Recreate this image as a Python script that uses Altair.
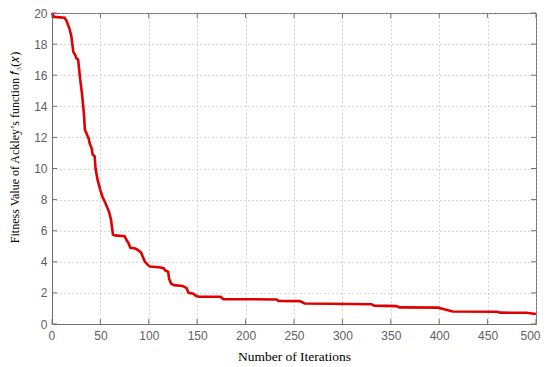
import altair as alt
import pandas as pd

iterations = [0, 2, 13, 15, 18, 20, 22, 24, 25, 27, 29, 31, 33, 34, 36, 38, 39, 41, 42, 44,
              45, 47, 50, 52, 55, 57, 59, 61, 62, 63, 65, 75, 77, 79, 81, 86, 89, 92, 94, 96,
              99, 101, 110, 115, 117, 120, 121, 123, 126, 135, 139, 141, 146, 149, 152, 174,
              177, 232, 234, 256, 261, 330, 333, 356, 359, 399, 405, 414, 460, 463, 490, 500]
fitness = [20, 19.75, 19.7, 19.5, 19.0, 18.5, 17.5, 17.3, 17.1, 17.0, 15.8, 14.8, 13.5, 12.5,
           12.2, 11.9, 11.6, 11.3, 10.9, 10.8, 10.0, 9.3, 8.6, 8.2, 7.8, 7.5, 7.2, 6.7, 6.2,
           5.75, 5.7, 5.65, 5.4, 5.2, 4.9, 4.85, 4.75, 4.6, 4.3, 4.0, 3.8, 3.7, 3.65, 3.6,
           3.45, 3.35, 2.9, 2.6, 2.5, 2.45, 2.3, 2.0, 1.95, 1.8, 1.75, 1.75, 1.6, 1.58, 1.48,
           1.47, 1.32, 1.27, 1.18, 1.15, 1.07, 1.05, 0.95, 0.8, 0.79, 0.73, 0.72, 0.64]

x_ticks = [0, 50, 100, 150, 200, 250, 300, 350, 400, 450, 500]
y_ticks = [0, 2, 4, 6, 8, 10, 12, 14, 16, 18, 20]

df = pd.DataFrame({"it": iterations, "f": fitness})

grid_color = "#b0b0b0"
axis_color = "#707070"
label_color = "#606060"

x_axis = alt.Axis(values=x_ticks, grid=True, gridColor=grid_color, gridDash=[1, 3],
                  gridWidth=1, ticks=False, domainColor=axis_color, labelColor=label_color,
                  labelFont="Liberation Sans", labelFontSize=12, labelPadding=6,
                  labelFlush=True, labelFlushOffset=4, labelOverlap=False,
                  title="Number of Iterations", titleFont="Liberation Serif",
                  titleFontSize=13.5, titleFontWeight="normal", titleColor="#000000",
                  titleY=36, titleBaseline="alphabetic")
y_axis = alt.Axis(values=y_ticks, grid=True, gridColor=grid_color, gridDash=[1, 3],
                  gridWidth=1, ticks=False, domainColor=axis_color, labelColor=label_color,
                  labelFont="Liberation Sans", labelFontSize=12, labelPadding=5,
                  labelFlush=False, labelOverlap=False,
                  title="Fitness Value of Ackley\u2019s function  \U0001D453\u2083(\U0001D465)",
                  titleFont="Liberation Serif", titleFontSize=12, titleFontWeight="normal",
                  titleColor="#000000", titleX=-31, titleY=134, titleBaseline="bottom")

xs = alt.Scale(domain=[0, 500], nice=False)
ys = alt.Scale(domain=[0, 20], nice=False)

line = alt.Chart(df).mark_line(color="#e00000", strokeWidth=2.6).encode(
    x=alt.X("it:Q", scale=xs, axis=x_axis),
    y=alt.Y("f:Q", scale=ys, axis=y_axis),
)

# small inward tick marks on all four sides
tx = pd.DataFrame({"t": x_ticks})
ty = pd.DataFrame({"t": y_ticks})
tick_bottom = alt.Chart(tx).mark_rule(color=axis_color).encode(
    x=alt.X("t:Q", scale=xs, axis=x_axis), y=alt.value(311), y2=alt.value(306))
tick_top = alt.Chart(tx).mark_rule(color=axis_color).encode(
    x=alt.X("t:Q", scale=xs, axis=x_axis), y=alt.value(0), y2=alt.value(5))
tick_left = alt.Chart(ty).mark_rule(color=axis_color).encode(
    y=alt.Y("t:Q", scale=ys, axis=y_axis), x=alt.value(0), x2=alt.value(5))
tick_right = alt.Chart(ty).mark_rule(color=axis_color).encode(
    y=alt.Y("t:Q", scale=ys, axis=y_axis), x=alt.value(484), x2=alt.value(479))

chart = alt.layer(line, tick_bottom, tick_top, tick_left, tick_right).properties(
    width=484, height=311,
    autosize=alt.AutoSizeParams(type="none"),
    padding={"left": 44, "top": 5, "right": 6, "bottom": 38},
    background="white",
).configure_view(stroke=axis_color, strokeWidth=1)

chart.save("out.html", embed_options={"renderer": "svg", "actions": False})
